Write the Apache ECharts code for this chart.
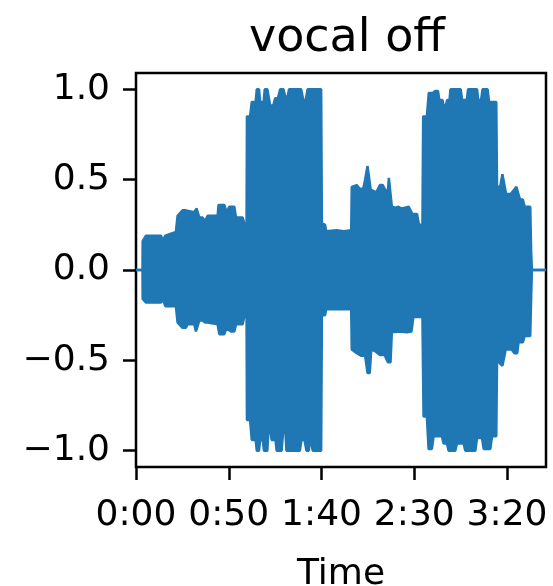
<!DOCTYPE html>
<html>
<head>
<meta charset="utf-8">
<script src="https://cdn.jsdelivr.net/npm/echarts@6/dist/echarts.min.js"></script>
<style>
  html, body { margin: 0; padding: 0; background: #fff; }
  #chart { width: 553px; height: 586px; }
</style>
</head>
<body>
<div id="chart"></div>
<script>
// Time axis (seconds) and tick labels
const duration = 221;
const xTicks = [0, 50, 100, 150, 200];
const yTicks = [-1.0, -0.5, 0.0, 0.5, 1.0];

// Upper envelope of the waveform: [time (s), amplitude]
const upperEnvelope = [
  [0, 0], [3.5, 0], [3.6, 0.16], [5.4, 0.19], [13.5, 0.19], [14.4, 0.16], [15.8, 0.19],
  [21.5, 0.21], [22.4, 0.30], [25.1, 0.33], [26.9, 0.33], [27.8, 0.32], [31.4, 0.32],
  [32.7, 0.34], [34.1, 0.29], [35.9, 0.29], [37.2, 0.27], [38.6, 0.30], [44.0, 0.30],
  [44.5, 0.36], [47.6, 0.36], [48.8, 0.32], [50.3, 0.35], [53.0, 0.35], [53.9, 0.29],
  [57.5, 0.29], [58.3, 0.26], [59.6, 0.25],
  [59.8, 0.85], [61.5, 0.85], [62.4, 0.93], [64.5, 0.93], [65.1, 1.0], [66.3, 1.0],
  [66.9, 0.93], [68.8, 0.93], [69.4, 1.0], [70.8, 1.0], [72.3, 0.91], [74.0, 0.91],
  [75.0, 0.95], [76.5, 0.95], [77.7, 1.0], [79.5, 1.0], [80.4, 0.96], [81.8, 0.96],
  [82.5, 1.0], [89.0, 1.0], [90.2, 0.94], [91.5, 0.94], [92.5, 1.0], [99.8, 1.0],
  [100.2, 0.26], [101.9, 0.25], [102.5, 0.215], [108, 0.22], [112, 0.215], [116, 0.22],
  [116.3, 0.46], [119, 0.47], [120.5, 0.45], [122.5, 0.45], [123.5, 0.50], [124.8, 0.575],
  [125.8, 0.575], [126.5, 0.445], [129.5, 0.43], [131.5, 0.47], [133, 0.47], [134.5, 0.44],
  [135.8, 0.44], [136.3, 0.51], [137.2, 0.51], [137.9, 0.35], [140, 0.345], [141.5, 0.35],
  [143, 0.34], [145, 0.345], [147, 0.35], [149, 0.31], [151.5, 0.31], [152.5, 0.25],
  [154.4, 0.25],
  [154.8, 0.85], [156.8, 0.85], [157.8, 0.98], [160, 0.98], [161.3, 0.99], [162.8, 0.99],
  [163.5, 0.94], [165.2, 0.94], [165.8, 0.91], [167, 0.91], [167.7, 0.94], [169, 0.94],
  [169.5, 1.0], [175, 1.0], [175.8, 0.94], [178.3, 0.94], [179, 1.0], [183.8, 1.0],
  [184.5, 0.94], [186, 0.94], [186.8, 1.0], [189.5, 1.0], [190.3, 0.93], [194.2, 0.93],
  [194.6, 0.46], [196.3, 0.46], [197.5, 0.53], [198.5, 0.53], [199.5, 0.42], [202, 0.42],
  [203.5, 0.44], [205, 0.46], [206, 0.46], [207, 0.39], [208.5, 0.39], [209.5, 0.35],
  [212.5, 0.35], [213, 0.10], [213.4, 0], [221, 0]
];

// Lower envelope of the waveform: [time (s), amplitude]
const lowerEnvelope = [
  [0, 0], [3.5, 0], [3.6, -0.16], [5.4, -0.18], [13.5, -0.18], [14.4, -0.16], [15.8, -0.20],
  [21.5, -0.20], [22.4, -0.29], [25.1, -0.32], [26.9, -0.32], [27.8, -0.30], [31.4, -0.30],
  [32.3, -0.34], [33.2, -0.34], [34.1, -0.28], [35.9, -0.28], [37.2, -0.29], [38.6, -0.29],
  [39.5, -0.30], [44.0, -0.30], [44.9, -0.355], [47.6, -0.355], [48.5, -0.33], [49.9, -0.33],
  [51.2, -0.34], [53.0, -0.34], [53.9, -0.30], [57.5, -0.30], [58.3, -0.26], [59.6, -0.26],
  [59.8, -0.83], [61.5, -0.83], [62.4, -0.94], [64.5, -0.94], [65.1, -1.0], [66.3, -1.0],
  [66.9, -0.94], [68.3, -0.94], [69.0, -1.0], [70.8, -1.0], [71.3, -0.90], [72.6, -0.90],
  [73.1, -0.94], [75.2, -0.94], [75.8, -1.0], [78.5, -1.0], [79.3, -0.89], [80.5, -0.89],
  [81.1, -1.0], [88.3, -1.0], [89.2, -0.94], [90.8, -0.94], [91.9, -1.0], [93.2, -1.0],
  [93.7, -0.92], [94.5, -0.92], [95.3, -1.0], [99.8, -1.0],
  [100.2, -0.25], [101.9, -0.25], [102.5, -0.217], [116, -0.217],
  [116.3, -0.44], [119, -0.46], [121.5, -0.475], [123.5, -0.475], [124.8, -0.57], [126, -0.57],
  [126.8, -0.44], [129, -0.45], [131.5, -0.47], [134, -0.47], [135.8, -0.51], [137.2, -0.51],
  [137.9, -0.345], [142, -0.34], [146, -0.345], [148.5, -0.34], [149.5, -0.26], [154.4, -0.26],
  [155, -0.81], [156.8, -0.81], [157.7, -0.99], [159.5, -0.99], [160.4, -0.92], [164.9, -0.92],
  [165.8, -0.96], [167.6, -0.96], [168.5, -1.0], [172.1, -1.0], [173, -0.96], [176.6, -0.96],
  [177.5, -1.0], [182.9, -1.0], [183.8, -0.93], [186.5, -0.93], [187.4, -0.99], [191, -0.99],
  [191.9, -0.92], [194.2, -0.92],
  [194.6, -0.50], [197.5, -0.53], [198.5, -0.53], [199.3, -0.44], [202.5, -0.44], [204, -0.46],
  [205.5, -0.46], [206.2, -0.40], [208.5, -0.40], [209.5, -0.365], [212.5, -0.365],
  [213, -0.15], [213.4, 0], [221, 0]
];

const BLUE = '#1f77b4';
const FONT = 'DejaVu Sans';

function fmtTime(v) {
  const m = Math.floor(v / 60);
  const s = Math.round(v - m * 60);
  return m + ':' + (s < 10 ? '0' : '') + s;
}
function fmtAmp(v) {
  const s = Math.abs(v).toFixed(1);
  return (v < 0 ? '\u2212' : '') + s;
}

const chart = echarts.init(document.getElementById('chart'), null, { renderer: 'canvas' });
chart.setOption({
  animation: false,
  backgroundColor: '#ffffff',
  title: {
    text: 'vocal off',
    left: 342,
    top: 11,
    textAlign: 'center',
    textStyle: { fontFamily: FONT, fontSize: 46, fontWeight: 'normal', color: '#000' }
  },
  grid: {
    left: 136, top: 73, width: 410, height: 394,
    outerBoundsMode: 'none',
    containLabel: false,
    show: true, borderColor: '#000', borderWidth: 2.5, backgroundColor: 'transparent'
  },
  xAxis: {
    type: 'value',
    min: 0, max: duration,
    name: 'Time',
    nameLocation: 'middle',
    nameGap: 90,
    nameTextStyle: { fontFamily: FONT, fontSize: 36, color: '#000' },
    splitLine: { show: false },
    axisLine: { show: false, onZero: false },
    axisTick: { show: true, customValues: xTicks, length: 13, inside: false,
      lineStyle: { color: '#000', width: 2.5 } },
    axisLabel: { customValues: xTicks, formatter: fmtTime, margin: 31,
      fontFamily: FONT, fontSize: 36, color: '#000' }
  },
  yAxis: {
    type: 'value',
    min: -1.09, max: 1.09,
    splitLine: { show: false },
    axisLine: { show: false, onZero: false },
    axisTick: { show: true, customValues: yTicks, length: 13, inside: false,
      lineStyle: { color: '#000', width: 2.5 } },
    axisLabel: { customValues: yTicks, formatter: fmtAmp, margin: 26,
      fontFamily: FONT, fontSize: 36, color: '#000' }
  },
  series: [
    {
      type: 'line', data: upperEnvelope, symbol: 'none', silent: true,
      lineStyle: { color: BLUE, width: 2.5 },
      areaStyle: { color: BLUE, opacity: 1, origin: 'auto' },
      z: 2
    },
    {
      type: 'line', data: lowerEnvelope, symbol: 'none', silent: true,
      lineStyle: { color: BLUE, width: 2.5 },
      areaStyle: { color: BLUE, opacity: 1, origin: 'auto' },
      z: 2
    }
  ]
});
</script>
</body>
</html>
